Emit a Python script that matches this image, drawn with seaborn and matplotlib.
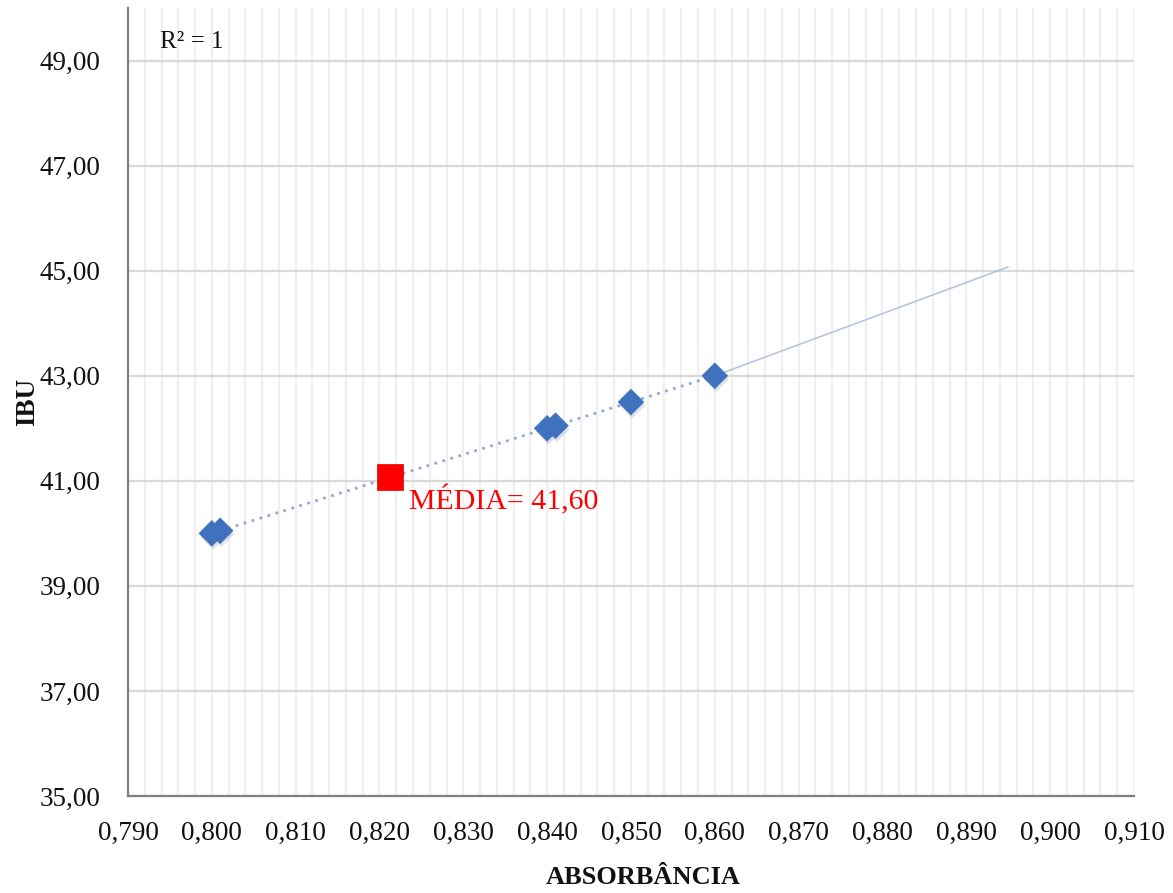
import numpy as np
import pandas as pd
import matplotlib
matplotlib.use("Agg")
import matplotlib.pyplot as plt
import matplotlib.patheffects as pe
from matplotlib.ticker import MultipleLocator, FuncFormatter
import seaborn as sns

# Calibration readings
absorbancia = [0.800, 0.801, 0.840, 0.841, 0.850, 0.860]
ibu = [40.00, 40.05, 42.00, 42.05, 42.50, 43.00]

# Sample point and forecast segment
amostra_x = [0.8213]
amostra_y = [41.08]
previsao_x = [0.860, 0.895]
previsao_y = [43.00, 45.07]

x_ticks = [0.790, 0.800, 0.810, 0.820, 0.830, 0.840, 0.850, 0.860, 0.870, 0.880, 0.890, 0.900, 0.910]
y_ticks = [35, 37, 39, 41, 43, 45, 47, 49]

df = pd.DataFrame({"ABSORBÂNCIA": absorbancia, "IBU": ibu})
df_amostra = pd.DataFrame({"x": amostra_x, "y": amostra_y})
df_prev = pd.DataFrame({"x": previsao_x, "y": previsao_y})

sns.set_theme(style="white")
plt.rcParams["font.family"] = ["Liberation Serif", "DejaVu Serif"]

fig = plt.figure(figsize=(11.73, 8.93), dpi=100)
ax = fig.add_axes([0.1091, 0.1086, 0.8576, 0.8824])

blue = "#3F72BE"

# dotted line through the calibration points
sns.lineplot(data=df, x="ABSORBÂNCIA", y="IBU", ax=ax, color="#93ABD0",
             linestyle=(0, (1, 2)), linewidth=2.0, zorder=3, sort=True)
# forecast extension
sns.lineplot(data=df_prev, x="x", y="y", ax=ax, color="#AFC2E0",
             linewidth=1.1, zorder=3)
# calibration points
sns.scatterplot(data=df, x="ABSORBÂNCIA", y="IBU", ax=ax, marker="D", s=170,
                color=blue, edgecolor=blue, linewidth=0.5, zorder=5,
                path_effects=[pe.SimplePatchShadow(offset=(1, -2.5), shadow_rgbFace="#6b7a95", alpha=0.22),
                              pe.Normal()])
# sample point
sns.scatterplot(data=df_amostra, x="x", y="y", ax=ax, marker="s", s=330,
                color="#FF0000", edgecolor="#E00000", linewidth=0.5, zorder=6)

media = np.mean(ibu)
ax.text(0.8235, 40.62, f"MÉDIA= {media:.2f}".replace(".", ","),
        color="#FF0000", fontsize=21.5, ha="left", va="center")
ax.text(0.7938, 49.35, "R² = 1", fontsize=18, ha="left", va="center", color="#111111")

ax.set_xlim(0.790, 0.910)
ax.set_ylim(35, 50)
ax.set_xticks(x_ticks)
ax.set_yticks(y_ticks)
ax.xaxis.set_minor_locator(MultipleLocator(0.002))
ax.xaxis.set_major_formatter(FuncFormatter(lambda v, p: f"{v:.3f}".replace(".", ",")))
ax.yaxis.set_major_formatter(FuncFormatter(lambda v, p: f"{v:.2f}".replace(".", ",")))

ax.grid(False)
ax.grid(True, which="major", axis="y", color="#D9D9D9", linewidth=1.6, zorder=0)
ax.grid(True, which="both", axis="x", color="#EFEFEF", linewidth=1.6, zorder=0)
ax.set_axisbelow(True)

for s in ["top", "right"]:
    ax.spines[s].set_visible(False)
for s in ["left", "bottom"]:
    ax.spines[s].set_color("#808080")
    ax.spines[s].set_linewidth(1.6)

ax.tick_params(axis="x", which="both", length=0, pad=18, labelsize=19.5, colors="#111111")
ax.tick_params(axis="y", which="both", length=0, pad=20, labelsize=19.5, colors="#111111")

ax.set_xlabel("ABSORBÂNCIA", fontsize=19, fontweight="bold", color="#111111", va="center")
ax.set_ylabel("IBU", fontsize=19.5, fontweight="bold", color="#111111")
ax.yaxis.set_label_coords(-0.087, 0.5)
ax.xaxis.set_label_coords(0.512, -0.104)

fig.savefig("out.png", dpi=100, facecolor="white")
